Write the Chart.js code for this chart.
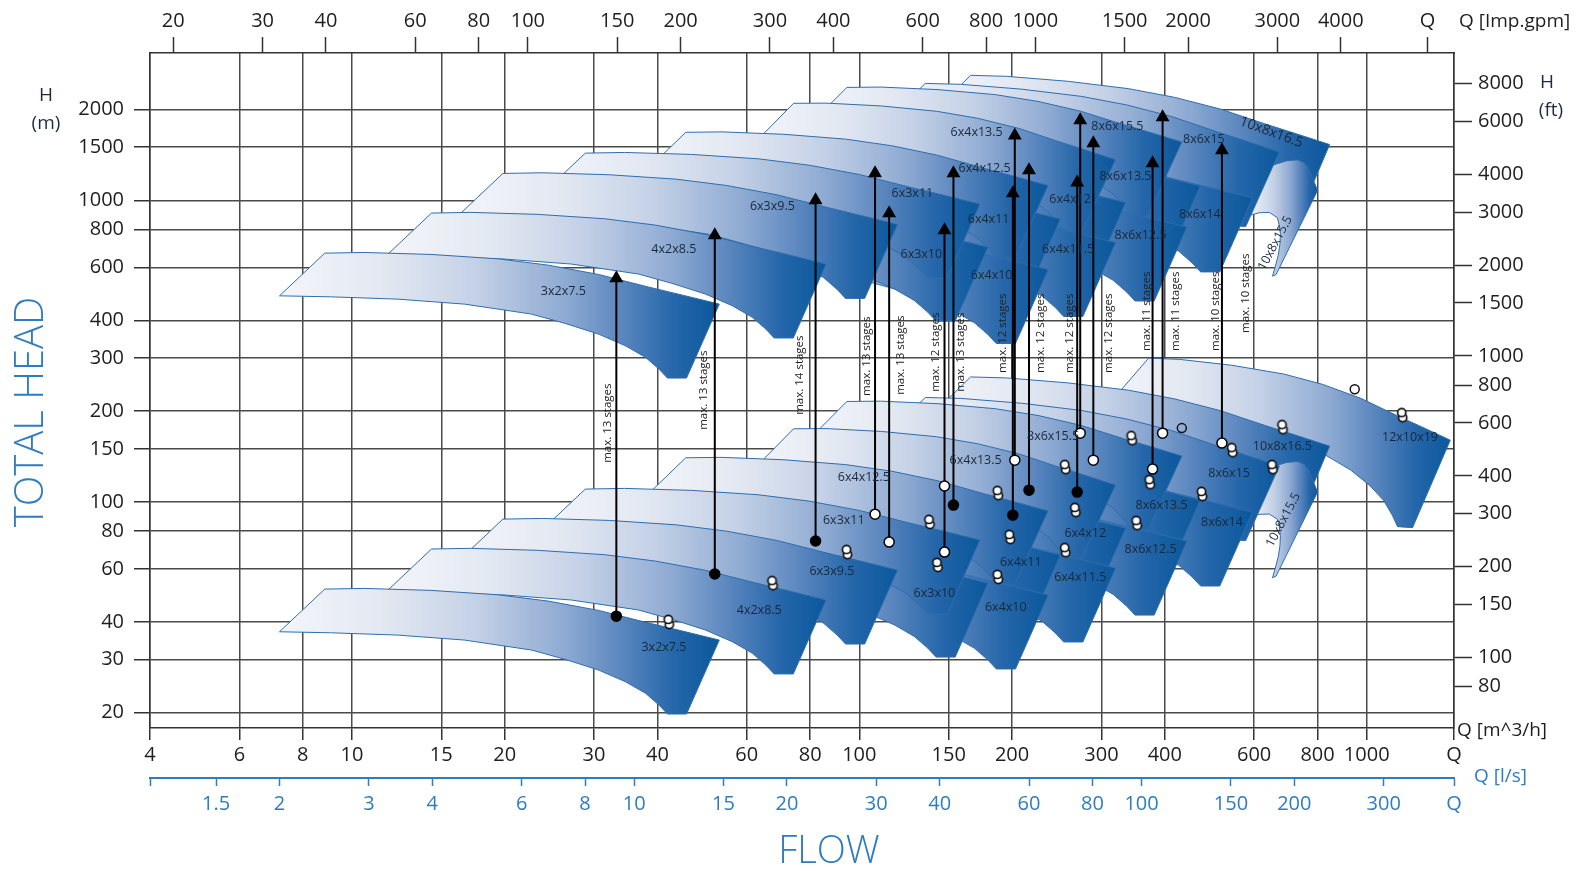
<!DOCTYPE html>
<html><head><meta charset="utf-8">
<script src="https://cdn.jsdelivr.net/npm/chart.js@4.4.1/dist/chart.umd.min.js"></script>
<style>html,body{margin:0;padding:0;background:#fff;}canvas{display:block}</style>
</head><body>
<canvas id="c" width="1585" height="871"></canvas>
<script>
// ---------------- axis ticks / ranges ----------------
const flowTicks = [4,6,8,10,15,20,30,40,60,80,100,150,200,300,400,600,800,1000];
const gpmTicks  = [20,30,40,60,80,100,150,200,300,400,600,800,1000,1500,2000,3000,4000];
const lsTicks   = [1.5,2,3,4,6,8,10,15,20,30,40,60,80,100,150,200,300];
const headTicks = [20,30,40,60,80,100,150,200,300,400,600,800,1000,1500,2000];
const ftTicks   = [80,100,150,200,300,400,600,800,1000,1500,2000,3000,4000,6000,8000];
const flowMin = 4, flowMax = 1486, headMin = 17.8, headMax = 3080;
const gpmEndQ = 5930;
const gpmPerM3h = 4.5, lsPerM3h = 1/3.6, ftPerM = 3.2808;

// ---------------- pump ranges (top-left corner of each single-stage range) ----------------
const tileNames = ['3x2x7.5','4x2x8.5','6x3x9.5','6x3x11','6x3x10','6x4x10','6x4x12.5','6x4x11','6x4x11.5','6x4x13.5','6x4x12','8x6x15.5','8x6x12.5','8x6x13.5','8x6x14','8x6x15','10x8x15.5','10x8x16.5','12x10x19'];
const tileQ = [8.84,14.35,19.84,28.84,29.92,39.33,45.5,41.56,53.4,74.2,55.9,94.5,73.8,78.4,99.4,134.9,636.8,165.7,371.6];
const tileH = [51.4,69.8,87.7,110.3,79.4,72.5,140.1,98.4,89.1,174.8,120.9,215.3,109.4,149.7,136.6,222.0,127.5,259.7,299.7];
const tileStages = [13,13,14,13,13,12,12,13,12,12,12,11,11,11,11,11,10,10,0];
// ranges whose outline differs from the common one: end corner and foot (null = common outline)
const tileEndQ  = [null,null,null,null,null,null,235.4,null,null,319.7,null,432.1,null,null,null,672.6,800,845,1461];
const tileEndH  = [null,null,null,null,null,null,93.3,null,null,113.7,null,141.9,null,null,null,131.5,107.8,153.1,160.3];
const tileFootQ = [null,null,null,null,null,null,194.4,null,null,263.8,null,356.6,null,null,null,555.3,657.4,704,1190];
const tileFootH = [null,null,null,null,null,null,53.4,null,null,64.7,null,80.7,null,null,null,74.7,56.4,87.1,82.5];
// common range outline, decades relative to top-left corner (flow, head)
const outlineQ = [-0.0892,0,0.0773,0.2095,0.3415,0.4406,0.5397,0.6389,0.7051,0.7776,0.7130,0.6753,0.6587,0.6323,0.5927,0.5397,0.4737,0.4077,0.2755,0.1433,0.0113,-0.0892];
const outlineH = [-0.1415,0,0.0023,-0.0043,-0.0189,-0.0398,-0.0706,-0.1127,-0.1392,-0.1690,-0.4142,-0.4142,-0.3844,-0.3456,-0.3072,-0.2684,-0.2329,-0.2021,-0.1690,-0.1524,-0.1448,-0.1415];
const outlineEnd = [0.7776,-0.1690], outlineFoot = [0.6942,-0.4142];

// labels of ranges
const lowerLabelQ = [41.2,63.5,88.3,93.2,140.6,194.4,102.1,208.1,272.5,169.5,278.8,240.9,375,394.3,518.4,535.5,685,682,1217];
const lowerLabelH = [33.0,43.8,58.6,87.1,49.9,44.8,120.9,63.2,56.4,137.6,78.9,165.3,69.8,97.6,85.8,124.6,87.1,153.1,164];
const upperLabelQ = [26.1,43.1,67.4,127.2,132.5,182.3,176.6,179.8,257.9,170.3,260.3,322.6,358.3,334.6,469,477.6,660.5,648.6,null];
const upperLabelH = [499.6,688.4,955.7,1055,662.5,564.4,1277,865.4,688.4,1681,1008,1760,766,1201,899,1593,720.6,1681,null];

// duty points
const pairQ = [42.1,67.4,94.5,137.4,142.5,187.4,187.4,197.9,254.4,266.4,254.4,344,351.9,373.4,473.2,542.8,651.6,682,1174];
const pairH = [40.0,53.8,68.2,85.8,61.8,107.0,56.4,76.5,130.5,94.0,69.2,162.7,85.1,116.3,106.2,148.5,130.5,177,194];
const singleQ = [947,432.1];
const singleH = [236.5,175.7];

// stage arrows
const arrowQ     = [33.2,51.9,82.0,107.4,114.5,147.2,153.3,200.7,202.5,216,268.8,272.5,289.2,378.4,396,518.4];
const arrowFromH = [41.8,57.7,74.2,91.1,73.6,68.2,97.6,90.4,137.6,109.4,107.8,169.1,137.6,128.5,169.1,156.7];
const arrowToH   = [551.6,766,1000,1229,906,796,1229,1055,1642,1258,1147,1842,1545,1327,1885,1465];
const arrowBase  = ['black','black','black','white','white','white','black','black','white','black','black','white','white','white','white','white'];
const extraDotQ = [147.2], extraDotH = [112.9];

// "max. N stages" notes
const stageQ = [31.9,49.4,76.3,103.5,120.4,141.2,158.3,191.8,228,260.3,309.6,368.3,420.4,504.4,578.6];
const stageH = [182.5,234.8,263.3,304.2,306.6,313.7,313.7,362.6,362.6,362.6,362.6,428.8,428.8,428.8,492];
const stageCount = [13,13,14,13,13,12,13,12,12,12,12,11,11,10,10];

// ---------------- styling ----------------
const FONT = "'Open Sans','Noto Sans','DejaVu Sans',sans-serif";
const BLUE = '#2f7cbf';
const lowerRot = {'10x8x15.5': -62};
const upperRot = {'10x8x15.5': -62, '10x8x16.5': 20};

function outline(i, mult) {
  const lm = Math.log10(mult);
  const q0 = Math.log10(tileQ[i]), h0 = Math.log10(tileH[i]) + lm;
  let dq1, dh1, dq2, dh2;
  if (tileEndQ[i] != null) {
    dq1 = Math.log10(tileEndQ[i]) - q0; dh1 = Math.log10(tileEndH[i]) + lm - h0;
    dq2 = Math.log10(tileFootQ[i]) - q0; dh2 = Math.log10(tileFootH[i]) + lm - h0;
  } else {
    dq1 = outlineEnd[0]; dh1 = outlineEnd[1]; dq2 = outlineFoot[0]; dh2 = outlineFoot[1];
  }
  const det = outlineEnd[0]*outlineFoot[1] - outlineEnd[1]*outlineFoot[0];
  return outlineQ.map((u, k) => {
    const v = outlineH[k];
    const a = (u*outlineFoot[1] - v*outlineFoot[0]) / det;
    const b = (outlineEnd[0]*v - outlineEnd[1]*u) / det;
    return {x: Math.pow(10, q0 + a*dq1 + b*dq2), y: Math.pow(10, h0 + a*dh1 + b*dh2)};
  });
}

function tileFill(ctx) {
  const chart = ctx.chart, ds = ctx.dataset;
  const sx = chart.scales && chart.scales.x;
  if (!chart.chartArea || !sx || !ds) return '#7d9fcb';
  const x0 = sx.getPixelForValue(ds.gradFrom), x1 = sx.getPixelForValue(ds.gradTo);
  if (!isFinite(x0) || !isFinite(x1) || x1 <= x0) return '#7d9fcb';
  const g = chart.ctx.createLinearGradient(x0, 0, x1, 0);
  g.addColorStop(0, '#f4f5fa');
  g.addColorStop(0.25, '#e1e7f1');
  g.addColorStop(0.45, '#c3d0e6');
  g.addColorStop(0.65, '#8eaad2');
  g.addColorStop(0.78, '#5a86be');
  g.addColorStop(0.9, '#2466a9');
  g.addColorStop(1, '#0a589c');
  return g;
}

function tileDataset(pts) {
  const xs = pts.map(p => p.x);
  return {type:'line', data: pts, fill:'shape', backgroundColor: tileFill,
    borderColor:'#2e6dad', borderWidth:1, pointRadius:0, tension:0,
    gradFrom: Math.min(...xs), gradTo: Math.max(...xs)};
}

function pairMarker() {
  const c = document.createElement('canvas'); c.width = 14; c.height = 18;
  const g = c.getContext('2d'); g.lineWidth = 1.7; g.strokeStyle = '#111'; g.fillStyle = '#fff';
  [[7.6,11.6],[6.6,6.4]].forEach(([x,y]) => { g.beginPath(); g.arc(x,y,4.1,0,Math.PI*2); g.fill(); g.stroke(); });
  return c;
}

const datasets = [];
datasets.push({type:'scatter', data: arrowQ.map((q,i)=>({x:q,y:arrowFromH[i]})).concat(extraDotQ.map((q,i)=>({x:q,y:extraDotH[i]}))),
  pointRadius:5, pointBackgroundColor: arrowBase.map(c => c==='black' ? '#000' : '#fff').concat(extraDotQ.map(()=>'#fff')),
  pointBorderColor:'#000', pointBorderWidth:1.5});
datasets.push({type:'scatter', data: pairQ.map((q,i)=>({x:q,y:pairH[i]})), pointStyle: pairMarker(), pointRadius:6});
datasets.push({type:'scatter', data: singleQ.map((q,i)=>({x:q,y:singleH[i]})), pointRadius:4.5,
  pointBackgroundColor:'rgba(0,0,0,0)', pointBorderColor:'#111', pointBorderWidth:1.5});
arrowQ.forEach((q,i) => datasets.push({type:'line', data:[{x:q,y:arrowFromH[i]},{x:q,y:arrowToH[i]}],
  borderColor:'#000', borderWidth:2, pointRadius:[0,8], pointStyle:'triangle',
  pointBackgroundColor:'#000', pointBorderColor:'#000', pointBorderWidth:0, fill:false}));
tileNames.forEach((n,i) => { if (tileStages[i]) datasets.push(tileDataset(outline(i, tileStages[i]))); });
tileNames.forEach((n,i) => datasets.push(tileDataset(outline(i, 1))));

function fmt(v) { return String(Math.round(v*1000)/1000); }

const textPlugin = {
  id: 'texts',
  afterDatasetsDraw(chart) {
    const {ctx, scales:{x, y}} = chart;
    ctx.save();
    ctx.textAlign = 'center'; ctx.textBaseline = 'middle';
    function put(txt, q, h, rot, size, color) {
      const px = x.getPixelForValue(q), py = y.getPixelForValue(h);
      ctx.save(); ctx.translate(px, py); if (rot) ctx.rotate(rot*Math.PI/180);
      ctx.font = size + 'px ' + FONT; ctx.fillStyle = color; ctx.fillText(txt, 0, 0); ctx.restore();
    }
    tileNames.forEach((n,i) => {
      put(n, lowerLabelQ[i], lowerLabelH[i], lowerRot[n] || 0, 12.5, '#1a2738');
      if (upperLabelQ[i] != null) put(n, upperLabelQ[i], upperLabelH[i], upperRot[n] || 0, n==='10x8x16.5'?14:12.5, '#1a2738');
    });
    stageQ.forEach((q,i) => put('max. ' + stageCount[i] + ' stages', q, stageH[i], -90, 11.5, '#222'));
    ctx.restore();
  },
  afterDraw(chart) {
    const ctx = chart.ctx;
    ctx.save();
    ctx.textBaseline = 'middle'; ctx.textAlign = 'center';
    ctx.fillStyle = '#1f2a44'; ctx.font = '19px ' + FONT;
    ctx.fillText('H', 46, 96); ctx.fillText('(m)', 46, 124);
    ctx.fillText('H', 1547, 83); ctx.fillText('(ft)', 1551, 111);
    ctx.fillStyle = '#1e1e1e'; ctx.textAlign = 'left';
    ctx.fillText('Q [Imp.gpm]', 1459, 22);
    ctx.fillText('Q [m^3/h]', 1457, 731);
    ctx.fillStyle = BLUE; ctx.fillText('Q [l/s]', 1474, 777);
    ctx.textAlign = 'center';
    ctx.font = '300 38px ' + FONT; ctx.fillStyle = BLUE;
    ctx.fillText('FLOW', 829, 852);
    ctx.save(); ctx.translate(32, 412); ctx.rotate(-Math.PI/2);
    ctx.font = '300 40px ' + FONT; ctx.fillText('TOTAL HEAD', 0, 0); ctx.restore();
    ctx.restore();
  }
};

const tickFont = {family: FONT, size: 20};
new Chart(document.getElementById('c'), {
  type: 'line',
  data: {datasets},
  plugins: [textPlugin],
  options: {
    responsive: false, animation: false, events: [],
    layout: {padding: 0},
    plugins: {legend: {display: false}, tooltip: {enabled: false}},
    scales: {
      x: {type:'logarithmic', position:'bottom', min: flowMin, max: flowMax, weight: 0,
        afterBuildTicks: s => { s.ticks = flowTicks.concat([flowMax]).map(v => ({value: v})); },
        afterFit: s => { s.height = 50; },
        ticks: {autoSkip:false, maxRotation:0, minRotation:0, padding:3, color:'#1e1e1e', font: tickFont,
          callback: v => Math.abs(v - flowMax) < 1e-6 ? 'Q' : fmt(v)},
        grid: {color:'#4a4a4a', lineWidth:1.5, tickLength:12, tickColor:'#333', tickWidth:1.5},
        border: {color:'#333', width:1.5}},
      xl: {type:'logarithmic', position:'bottom', min: flowMin*lsPerM3h, max: flowMax*lsPerM3h, weight: 1,
        afterBuildTicks: s => { s.ticks = [flowMin*lsPerM3h].concat(lsTicks, [flowMax*lsPerM3h]).map(v => ({value: v})); },
        afterFit: s => { s.height = 93; },
        ticks: {autoSkip:false, maxRotation:0, minRotation:0, padding:6, color: BLUE, font: tickFont,
          callback: (v, i, arr) => i === 0 ? '' : (i === arr.length - 1 ? 'Q' : fmt(v))},
        grid: {drawOnChartArea:false, tickLength:8, tickColor: BLUE, tickWidth:1.5, color: BLUE},
        border: {color: BLUE, width:2}},
      xt: {type:'logarithmic', position:'top', min: flowMin*gpmPerM3h, max: flowMax*gpmPerM3h,
        afterBuildTicks: s => { s.ticks = gpmTicks.concat([gpmEndQ]).map(v => ({value: v})); },
        afterFit: s => { s.height = 53; },
        ticks: {autoSkip:false, maxRotation:0, minRotation:0, padding:4, color:'#1e1e1e', font: tickFont,
          callback: v => Math.abs(v - gpmEndQ) < 1e-6 ? 'Q' : fmt(v)},
        grid: {drawOnChartArea:false, tickLength:16, tickColor:'#333', tickWidth:1.5, color:'#333'},
        border: {color:'#333', width:1.5}},
      y: {type:'logarithmic', position:'left', min: headMin, max: headMax,
        afterBuildTicks: s => { s.ticks = headTicks.map(v => ({value: v})); },
        afterFit: s => { s.width = 150; },
        ticks: {autoSkip:false, padding:10, color:'#1e1e1e', font: tickFont, callback: v => fmt(v)},
        grid: {color:'#4a4a4a', lineWidth:1.5, tickLength:16, tickColor:'#333', tickWidth:1.5},
        border: {color:'#333', width:1.5}},
      yr: {type:'logarithmic', position:'right', min: headMin*ftPerM, max: headMax*ftPerM,
        afterBuildTicks: s => { s.ticks = ftTicks.map(v => ({value: v})); },
        afterFit: s => { s.width = 131; },
        ticks: {autoSkip:false, padding:6, color:'#1e1e1e', font: tickFont, callback: v => fmt(v)},
        grid: {drawOnChartArea:false, tickLength:18, tickColor:'#333', tickWidth:1.5, color:'#333'},
        border: {color:'#333', width:1.5}}
    }
  }
});
</script>
</body></html>
